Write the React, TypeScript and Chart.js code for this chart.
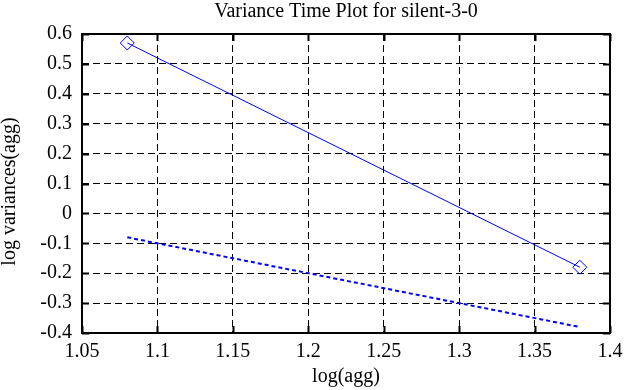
import React, { useEffect, useRef } from "react";
import { Chart, registerables } from "chart.js";

Chart.register(...registerables);

const titleText = "Variance Time Plot for silent-3-0";
const xAxisLabel = "log(agg)";
const yAxisLabel = "log variances(agg)";

const aggLog = [1.08, 1.38];
const varianceLog = [0.57, -0.18];
const fitLog = [-0.08, -0.38];

const xMin = 1.05;
const xMax = 1.4;
const xStep = 0.05;
const yMin = -0.4;
const yMax = 0.6;
const yStep = 0.1;

const FONT = "'Liberation Serif', 'Times New Roman', serif";

const fmt = (v: number) => {
  const r = parseFloat(Number(v).toFixed(2));
  return r === 0 ? "0" : String(r);
};

const framePlugin = {
  id: "frameTicks",
  beforeDatasetsDraw(chart: any) {
    const { ctx, chartArea: a, scales } = chart;
    ctx.save();
    ctx.strokeStyle = "#000";
    ctx.lineWidth = 2;
    ctx.setLineDash([]);
    ctx.strokeRect(a.left, a.top, a.right - a.left, a.bottom - a.top);
    const L = 7;
    ctx.beginPath();
    scales.x.ticks.forEach((_t: any, i: number) => {
      const px = Math.round(scales.x.getPixelForTick(i)) + 0.5;
      ctx.moveTo(px, a.bottom);
      ctx.lineTo(px, a.bottom - L);
      ctx.moveTo(px, a.top);
      ctx.lineTo(px, a.top + L);
    });
    scales.y.ticks.forEach((_t: any, i: number) => {
      const py = Math.round(scales.y.getPixelForTick(i)) + 0.5;
      ctx.moveTo(a.left, py);
      ctx.lineTo(a.left + L, py);
      ctx.moveTo(a.right, py);
      ctx.lineTo(a.right - L, py);
    });
    ctx.stroke();
    ctx.restore();
  },
  afterDraw(chart: any) {
    const { ctx, chartArea: a } = chart;
    ctx.save();
    ctx.fillStyle = "#000";
    ctx.font = `20px ${FONT}`;
    ctx.textAlign = "center";
    ctx.textBaseline = "middle";
    ctx.translate(10, (a.top + a.bottom) / 2 + 8);
    ctx.rotate(-Math.PI / 2);
    ctx.fillText(yAxisLabel, 0, 0);
    ctx.restore();
  },
};

export default function App() {
  const ref = useRef<HTMLCanvasElement | null>(null);

  useEffect(() => {
    if (!ref.current) return;
    const chart = new Chart(ref.current, {
      type: "scatter",
      data: {
        datasets: [
          {
            label: "variance",
            data: aggLog.map((x, i) => ({ x, y: varianceLog[i] })),
            showLine: true,
            borderColor: "#0000ff",
            borderWidth: 1,
            pointStyle: "rectRot",
            pointRadius: 7,
            pointBorderWidth: 1,
            pointBackgroundColor: "rgba(255,255,255,0)",
            pointBorderColor: "#0000ff",
          },
          {
            label: "fit",
            data: aggLog.map((x, i) => ({ x, y: fitLog[i] })),
            showLine: true,
            borderColor: "#0000ff",
            borderWidth: 2,
            borderDash: [4, 3],
            pointRadius: 0,
          },
        ],
      },
      options: {
        animation: false,
        responsive: false,
        maintainAspectRatio: false,
        layout: { padding: { top: 0, right: 16, left: 0, bottom: 0 } },
        plugins: {
          legend: { display: false },
          tooltip: { enabled: false },
          title: {
            display: true,
            text: titleText,
            color: "#000",
            fullSize: false,
            font: { family: FONT, size: 20, weight: "normal", lineHeight: 1.2 },
            padding: { top: 0, bottom: 10 },
          },
        },
        scales: {
          x: {
            type: "linear",
            min: xMin,
            max: xMax,
            afterFit: (s: any) => {
              s.height = 57;
              s.paddingRight = 0;
              s.paddingLeft = 0;
            },
            ticks: {
              stepSize: xStep,
              color: "#000",
              padding: 7,
              maxRotation: 0,
              font: { family: FONT, size: 20 },
              callback: (v: any) => fmt(v),
            },
            grid: { color: "#000", lineWidth: 1, drawTicks: false },
            border: { display: false, dash: [7, 4] },
            title: {
              display: true,
              text: xAxisLabel,
              color: "#000",
              font: { family: FONT, size: 20, lineHeight: 1.2 },
              padding: { top: 0, bottom: 1 },
            },
          },
          y: {
            type: "linear",
            min: yMin,
            max: yMax,
            afterFit: (s: any) => {
              s.width = 82;
              s.paddingTop = 0;
              s.paddingBottom = 0;
            },
            ticks: {
              stepSize: yStep,
              color: "#000",
              padding: 10,
              font: { family: FONT, size: 20 },
              callback: (v: any) => fmt(v),
            },
            grid: { color: "#000", lineWidth: 1, drawTicks: false },
            border: { display: false, dash: [7, 4] },
            title: { display: false },
          },
        },
      } as any,
      plugins: [framePlugin],
    });
    return () => chart.destroy();
  }, []);

  return (
    <div style={{ position: "fixed", left: 0, top: 0, width: 626, height: 390, background: "#fff" }}>
      <canvas ref={ref} width={626} height={390} style={{ display: "block", width: 626, height: 390 }} />
    </div>
  );
}
